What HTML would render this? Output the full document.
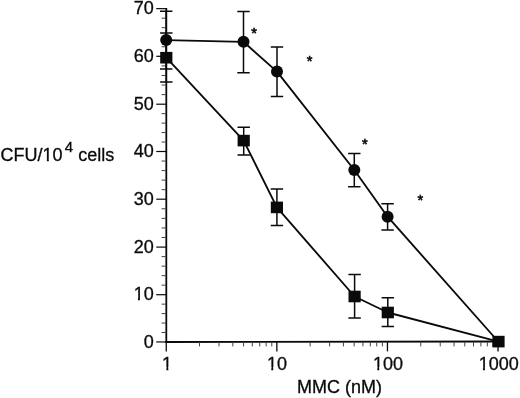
<!DOCTYPE html>
<html><head><meta charset="utf-8"><title>chart</title>
<style>
html,body{margin:0;padding:0;background:#fff;}
body{width:520px;height:398px;overflow:hidden;}
svg{display:block;}
text{font-family:"Liberation Sans",sans-serif;font-size:18px;fill:#0a0a0a;stroke:#0a0a0a;stroke-width:0.3px;}
</style></head><body>
<svg width="520" height="398" viewBox="0 0 520 398">
<rect width="520" height="398" fill="#fff"/>
<g stroke="#0a0a0a" fill="none" stroke-linecap="butt">
<line x1="166.3" y1="8.1" x2="166.3" y2="343.1" stroke-width="1.8"/>
<line x1="165.25" y1="341.95" x2="498" y2="341.50" stroke-width="1.9"/>
<line x1="156.25" y1="341.95" x2="166.25" y2="341.95" stroke-width="1.2"/>
<line x1="161.55" y1="332.50" x2="166.25" y2="332.50" stroke-width="1" stroke="#444"/>
<line x1="161.55" y1="323.05" x2="166.25" y2="323.05" stroke-width="1" stroke="#444"/>
<line x1="161.55" y1="313.60" x2="166.25" y2="313.60" stroke-width="1" stroke="#444"/>
<line x1="161.55" y1="304.15" x2="166.25" y2="304.15" stroke-width="1" stroke="#444"/>
<line x1="156.25" y1="294.70" x2="166.25" y2="294.70" stroke-width="1.2"/>
<line x1="161.55" y1="285.18" x2="166.25" y2="285.18" stroke-width="1" stroke="#444"/>
<line x1="161.55" y1="275.66" x2="166.25" y2="275.66" stroke-width="1" stroke="#444"/>
<line x1="161.55" y1="266.14" x2="166.25" y2="266.14" stroke-width="1" stroke="#444"/>
<line x1="161.55" y1="256.62" x2="166.25" y2="256.62" stroke-width="1" stroke="#444"/>
<line x1="156.25" y1="247.10" x2="166.25" y2="247.10" stroke-width="1.2"/>
<line x1="161.55" y1="237.52" x2="166.25" y2="237.52" stroke-width="1" stroke="#444"/>
<line x1="161.55" y1="227.94" x2="166.25" y2="227.94" stroke-width="1" stroke="#444"/>
<line x1="161.55" y1="218.36" x2="166.25" y2="218.36" stroke-width="1" stroke="#444"/>
<line x1="161.55" y1="208.78" x2="166.25" y2="208.78" stroke-width="1" stroke="#444"/>
<line x1="156.25" y1="199.20" x2="166.25" y2="199.20" stroke-width="1.2"/>
<line x1="161.55" y1="189.66" x2="166.25" y2="189.66" stroke-width="1" stroke="#444"/>
<line x1="161.55" y1="180.12" x2="166.25" y2="180.12" stroke-width="1" stroke="#444"/>
<line x1="161.55" y1="170.58" x2="166.25" y2="170.58" stroke-width="1" stroke="#444"/>
<line x1="161.55" y1="161.04" x2="166.25" y2="161.04" stroke-width="1" stroke="#444"/>
<line x1="156.25" y1="151.50" x2="166.25" y2="151.50" stroke-width="1.2"/>
<line x1="161.55" y1="142.04" x2="166.25" y2="142.04" stroke-width="1" stroke="#444"/>
<line x1="161.55" y1="132.58" x2="166.25" y2="132.58" stroke-width="1" stroke="#444"/>
<line x1="161.55" y1="123.12" x2="166.25" y2="123.12" stroke-width="1" stroke="#444"/>
<line x1="161.55" y1="113.66" x2="166.25" y2="113.66" stroke-width="1" stroke="#444"/>
<line x1="156.25" y1="104.20" x2="166.25" y2="104.20" stroke-width="1.2"/>
<line x1="161.55" y1="94.62" x2="166.25" y2="94.62" stroke-width="1" stroke="#444"/>
<line x1="161.55" y1="85.04" x2="166.25" y2="85.04" stroke-width="1" stroke="#444"/>
<line x1="161.55" y1="75.46" x2="166.25" y2="75.46" stroke-width="1" stroke="#444"/>
<line x1="161.55" y1="65.88" x2="166.25" y2="65.88" stroke-width="1" stroke="#444"/>
<line x1="156.25" y1="56.30" x2="166.25" y2="56.30" stroke-width="1.2"/>
<line x1="161.55" y1="46.77" x2="166.25" y2="46.77" stroke-width="1" stroke="#444"/>
<line x1="161.55" y1="37.24" x2="166.25" y2="37.24" stroke-width="1" stroke="#444"/>
<line x1="161.55" y1="27.71" x2="166.25" y2="27.71" stroke-width="1" stroke="#444"/>
<line x1="161.55" y1="18.18" x2="166.25" y2="18.18" stroke-width="1" stroke="#444"/>
<line x1="156.25" y1="8.65" x2="166.25" y2="8.65" stroke-width="1.2"/>
<line x1="166.25" y1="342.1" x2="166.25" y2="351.40000000000003" stroke-width="1.3"/>
<line x1="199.54" y1="342.1" x2="199.54" y2="346.40000000000003" stroke-width="1" stroke="#444"/>
<line x1="219.02" y1="342.1" x2="219.02" y2="346.40000000000003" stroke-width="1" stroke="#444"/>
<line x1="232.84" y1="342.1" x2="232.84" y2="346.40000000000003" stroke-width="1" stroke="#444"/>
<line x1="243.56" y1="342.1" x2="243.56" y2="346.40000000000003" stroke-width="1" stroke="#444"/>
<line x1="252.31" y1="342.1" x2="252.31" y2="346.40000000000003" stroke-width="1" stroke="#444"/>
<line x1="259.72" y1="342.1" x2="259.72" y2="346.40000000000003" stroke-width="1" stroke="#444"/>
<line x1="266.13" y1="342.1" x2="266.13" y2="346.40000000000003" stroke-width="1" stroke="#444"/>
<line x1="271.79" y1="342.1" x2="271.79" y2="346.40000000000003" stroke-width="1" stroke="#444"/>
<line x1="276.85" y1="342.1" x2="276.85" y2="351.40000000000003" stroke-width="1.3"/>
<line x1="310.14" y1="342.1" x2="310.14" y2="346.40000000000003" stroke-width="1" stroke="#444"/>
<line x1="329.62" y1="342.1" x2="329.62" y2="346.40000000000003" stroke-width="1" stroke="#444"/>
<line x1="343.44" y1="342.1" x2="343.44" y2="346.40000000000003" stroke-width="1" stroke="#444"/>
<line x1="354.16" y1="342.1" x2="354.16" y2="346.40000000000003" stroke-width="1" stroke="#444"/>
<line x1="362.91" y1="342.1" x2="362.91" y2="346.40000000000003" stroke-width="1" stroke="#444"/>
<line x1="370.32" y1="342.1" x2="370.32" y2="346.40000000000003" stroke-width="1" stroke="#444"/>
<line x1="376.73" y1="342.1" x2="376.73" y2="346.40000000000003" stroke-width="1" stroke="#444"/>
<line x1="382.39" y1="342.1" x2="382.39" y2="346.40000000000003" stroke-width="1" stroke="#444"/>
<line x1="387.45" y1="342.1" x2="387.45" y2="351.40000000000003" stroke-width="1.3"/>
<line x1="420.74" y1="342.1" x2="420.74" y2="346.40000000000003" stroke-width="1" stroke="#444"/>
<line x1="440.22" y1="342.1" x2="440.22" y2="346.40000000000003" stroke-width="1" stroke="#444"/>
<line x1="454.04" y1="342.1" x2="454.04" y2="346.40000000000003" stroke-width="1" stroke="#444"/>
<line x1="464.76" y1="342.1" x2="464.76" y2="346.40000000000003" stroke-width="1" stroke="#444"/>
<line x1="473.51" y1="342.1" x2="473.51" y2="346.40000000000003" stroke-width="1" stroke="#444"/>
<line x1="480.92" y1="342.1" x2="480.92" y2="346.40000000000003" stroke-width="1" stroke="#444"/>
<line x1="487.33" y1="342.1" x2="487.33" y2="346.40000000000003" stroke-width="1" stroke="#444"/>
<line x1="492.99" y1="342.1" x2="492.99" y2="346.40000000000003" stroke-width="1" stroke="#444"/>
<line x1="498.05" y1="342.1" x2="498.05" y2="351.40000000000003" stroke-width="1.3"/>
<polyline points="166.2,40.1 243.5,41.8 277,71.6 354.3,170 387.6,216.7 498.2,341.5" stroke-width="1.85" stroke-linejoin="round"/>
<path d="M160.0,11.3H172.39999999999998M160.0,68.9H172.39999999999998M166.2,11.3V68.9" stroke-width="1.5"/>
<path d="M237.3,11.4H249.7M237.3,72.7H249.7M243.5,11.4V72.7" stroke-width="1.5"/>
<path d="M270.8,47H283.2M270.8,96.6H283.2M277,47V96.6" stroke-width="1.5"/>
<path d="M348.1,153.5H360.5M348.1,186.7H360.5M354.3,153.5V186.7" stroke-width="1.5"/>
<path d="M381.40000000000003,203.7H393.8M381.40000000000003,230.1H393.8M387.6,203.7V230.1" stroke-width="1.5"/>
<polyline points="166.3,57.7 243.7,140.6 276.9,207.4 354.6,296.5 387.8,312.5 498.5,341.6" stroke-width="1.85" stroke-linejoin="round"/>
<path d="M160.10000000000002,33H172.5M160.10000000000002,82H172.5M166.3,33V82" stroke-width="1.5"/>
<path d="M237.5,127.2H249.89999999999998M237.5,155H249.89999999999998M243.7,127.2V155" stroke-width="1.5"/>
<path d="M270.7,189H283.09999999999997M270.7,225.5H283.09999999999997M276.9,189V225.5" stroke-width="1.5"/>
<path d="M348.40000000000003,274.5H360.8M348.40000000000003,318.1H360.8M354.6,274.5V318.1" stroke-width="1.5"/>
<path d="M381.6,297.8H394.0M381.6,326.5H394.0M387.8,297.8V326.5" stroke-width="1.5"/>
</g><g fill="#0a0a0a" stroke="none">
<circle cx="166.2" cy="40.1" r="6"/>
<circle cx="243.5" cy="41.8" r="6"/>
<circle cx="277" cy="71.6" r="6"/>
<circle cx="354.3" cy="170" r="6"/>
<circle cx="387.6" cy="216.7" r="6"/>
<rect x="160.20000000000002" y="51.900000000000006" width="12.2" height="11.6"/>
<rect x="237.6" y="134.79999999999998" width="12.2" height="11.6"/>
<rect x="270.79999999999995" y="201.6" width="12.2" height="11.6"/>
<rect x="348.5" y="290.7" width="12.2" height="11.6"/>
<rect x="381.7" y="306.7" width="12.2" height="11.6"/>
<rect x="492.4" y="335.8" width="12.2" height="11.6"/>
</g>
<text x="153.7" y="347.55" text-anchor="end">0</text>
<text x="153.7" y="300.30" text-anchor="end">10</text>
<text x="153.7" y="252.70" text-anchor="end">20</text>
<text x="153.7" y="204.80" text-anchor="end">30</text>
<text x="153.7" y="157.10" text-anchor="end">40</text>
<text x="153.7" y="109.80" text-anchor="end">50</text>
<text x="153.7" y="61.90" text-anchor="end">60</text>
<text x="153.7" y="14.25" text-anchor="end">70</text>
<text x="167.1" y="369.6" text-anchor="middle">1</text>
<text x="277.0" y="369.6" text-anchor="middle">10</text>
<text x="388.0" y="369.6" text-anchor="middle">100</text>
<text x="498.7" y="369.6" text-anchor="middle">1000</text>
<text x="297" y="392.6">MMC (nM)</text>
<text x="0.6" y="160.8">CFU/10<tspan dx="2.2" dy="-9.1" font-size="15">4</tspan><tspan dx="5" dy="9.1">cells</tspan></text>
<text x="254.05" y="37.90" text-anchor="middle" style="font-size:14.5px;stroke-width:0.6px">*</text>
<text x="309.55" y="66.05" text-anchor="middle" style="font-size:14.5px;stroke-width:0.6px">*</text>
<text x="364.95" y="149.45" text-anchor="middle" style="font-size:14.5px;stroke-width:0.6px">*</text>
<text x="420.4" y="204.65" text-anchor="middle" style="font-size:14.5px;stroke-width:0.6px">*</text>
<rect x="162.60" y="367" width="3.77" height="4" fill="#fff"/>
<rect x="168.34" y="367" width="3.80" height="4" fill="#fff"/>
<rect x="267.49" y="367" width="3.77" height="4" fill="#fff"/>
<rect x="273.23" y="367" width="3.80" height="4" fill="#fff"/>
<rect x="373.49" y="367" width="3.77" height="4" fill="#fff"/>
<rect x="379.23" y="367" width="3.80" height="4" fill="#fff"/>
<rect x="479.18" y="367" width="3.77" height="4" fill="#fff"/>
<rect x="484.92" y="367" width="3.80" height="4" fill="#fff"/>
<rect x="134.18" y="298" width="3.77" height="4" fill="#fff"/>
<rect x="139.92" y="298" width="3.80" height="4" fill="#fff"/>
<rect x="43.09" y="159" width="3.77" height="4" fill="#fff"/>
<rect x="48.83" y="159" width="3.80" height="4" fill="#fff"/>
</svg></body></html>
